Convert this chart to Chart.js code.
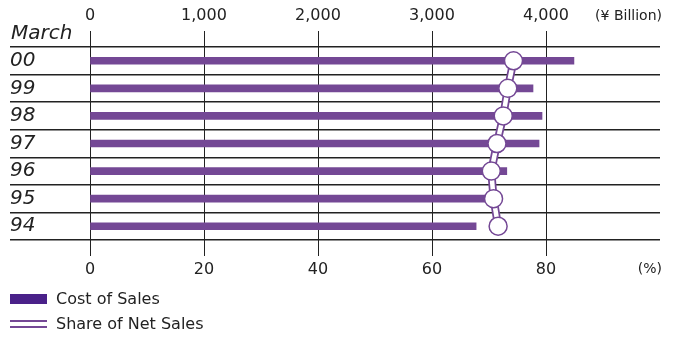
<!DOCTYPE html>
<html>
<head>
<meta charset="utf-8">
<script src="https://cdn.jsdelivr.net/npm/chart.js@4.4.1/dist/chart.umd.min.js"></script>
<style>
  body { margin: 0; background: #fff; }
  #wrap { position: relative; width: 678px; height: 338px; }
  #legend { position: absolute; left: 10px; top: 286px; font: 16px "DejaVu Sans", sans-serif; color: #222; }
  .item { display: flex; align-items: center; height: 25px; }
  .box { width: 37px; height: 10px; margin-right: 9px; box-sizing: border-box; }
</style>
</head>
<body>
<div id="wrap">
  <canvas id="Chart1" width="678" height="338"></canvas>
  <div id="legend"></div>
</div>
<script>
// fiscal years (March), newest on top
let years = ["00", "99", "98", "97", "96", "95", "94"]
// cost of sales, ¥ billion
let costOfSales = [4245, 3886, 3965, 3939, 3656, 3500, 3387]
// share of net sales, %
let shareOfNet = [74.3, 73.3, 72.5, 71.4, 70.4, 70.8, 71.6]
let billionTicks = [0, 1000, 2000, 3000, 4000]
let pctTicks = [0, 20, 40, 60, 80]

const purple = "#744895"
const lineCol = "#222"

// text that sits outside the scales: the "March" header and axis units
const extraText = {
    id: "extraText",
    afterDraw(chart) {
        const ctx = chart.ctx
        const area = chart.chartArea
        ctx.save()
        ctx.fillStyle = lineCol
        ctx.textBaseline = "middle"
        ctx.font = "italic 20px 'DejaVu Sans'"
        ctx.textAlign = "left"
        ctx.fillText("March", 11, 34)
        ctx.font = "14px 'DejaVu Sans'"
        ctx.textAlign = "right"
        ctx.fillText("(¥ Billion)", area.right + 2, 16)
        ctx.fillText("(%)", area.right + 2, 269)
        ctx.restore()
    }
}

new Chart(document.getElementById("Chart1"), {
    type: "bar",
    data: {
        labels: years,
        datasets: [{
            type: "line",
            label: "Share of Net Sales",
            indexAxis: "y",
            data: shareOfNet,
            xAxisID: "pct",
            borderColor: "#fff",
            borderWidth: 4.5,
            pointRadius: 9,
            pointBorderWidth: 1.5,
            pointBorderColor: purple,
            pointBackgroundColor: "#fff",
            order: 0
        }, {
            type: "line",
            label: "share outline",
            indexAxis: "y",
            data: shareOfNet,
            xAxisID: "pct",
            borderColor: purple,
            borderWidth: 8,
            pointRadius: 0,
            order: 1
        }, {
            label: "Cost of Sales",
            data: costOfSales,
            xAxisID: "x",
            backgroundColor: purple,
            barThickness: 7,
            order: 2
        }]
    },
    options: {
        indexAxis: "y",
        responsive: false,
        animation: false,
        layout: { padding: { left: 10, right: 18, top: 0, bottom: 58 } },
        plugins: {
            legend: { display: false },
            tooltip: { enabled: false }
        },
        scales: {
            y: {
                position: "left",
                afterFit: (s) => { s.width = 80 },
                border: { display: false },
                grid: { color: lineCol, lineWidth: 1.5, tickLength: 80, offset: true },
                ticks: {
                    crossAlign: "far",
                    padding: 0,
                    color: lineCol,
                    font: { family: "DejaVu Sans", size: 20, style: "italic" }
                }
            },
            x: {
                position: "top",
                min: 0,
                max: 5000,
                afterFit: (s) => { s.height = 47 },
                afterBuildTicks: (s) => { s.ticks = billionTicks.map(v => ({ value: v })) },
                border: { display: false },
                grid: { color: lineCol, lineWidth: 1, tickLength: 16 },
                ticks: {
                    padding: 6,
                    color: lineCol,
                    font: { family: "DejaVu Sans", size: 16 },
                    callback: (v) => v.toLocaleString("en-US")
                }
            },
            pct: {
                position: "bottom",
                min: 0,
                max: 100,
                afterFit: (s) => { s.height = 40 },
                afterBuildTicks: (s) => { s.ticks = pctTicks.map(v => ({ value: v })) },
                border: { display: false },
                grid: { color: lineCol, lineWidth: 1, tickLength: 16, drawOnChartArea: false },
                ticks: {
                    padding: 4,
                    color: lineCol,
                    font: { family: "DejaVu Sans", size: 16 }
                }
            }
        }
    },
    plugins: [extraText]
})

// legend below the chart
document.getElementById("legend").innerHTML =
    `<div class="item"><span class="box" style="background:#4a2189"></span>Cost of Sales</div>` +
    `<div class="item"><span class="box" style="height:8px;border-top:2px solid ${purple};border-bottom:2px solid ${purple}"></span>Share of Net Sales</div>`
</script>
</body>
</html>
